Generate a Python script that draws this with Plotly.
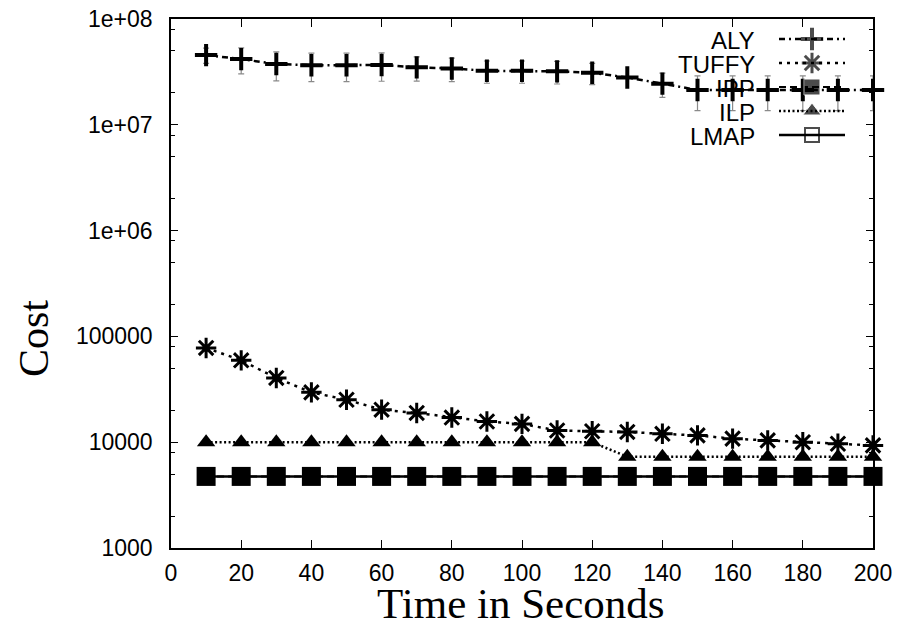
import plotly.graph_objects as go

# ---------------- data ----------------
time_s = [10, 20, 30, 40, 50, 60, 70, 80, 90, 100,
          110, 120, 130, 140, 150, 160, 170, 180, 190, 200]

aly = [4.56e7, 4.18e7, 3.75e7, 3.66e7, 3.66e7, 3.68e7, 3.49e7, 3.41e7, 3.24e7, 3.24e7,
       3.20e7, 3.10e7, 2.80e7, 2.45e7, 2.13e7, 2.13e7, 2.13e7, 2.13e7, 2.13e7, 2.13e7]
aly_err = [0.75e7, 1.15e7, 1.15e7, 1.10e7, 1.10e7, 1.10e7, 0.90e7, 0.85e7, 0.77e7, 0.77e7,
           0.77e7, 0.70e7, 0.0, 0.63e7, 0.77e7, 0.77e7, 0.77e7, 0.77e7, 0.77e7, 0.77e7]
tuffy = [77800, 59400, 40500, 29600, 25200, 20300, 18900, 17100, 15700, 14900,
         12900, 12700, 12500, 12000, 11600, 10800, 10400, 10000, 9660, 9330]
ipp = [4750] * 20
ilp = [10000] * 12 + [7280] * 8
lmap = [4750] * 20

series_names = ["ALY", "TUFFY", "IPP", "ILP", "LMAP"]

y_tickvals = [1e3, 1e4, 1e5, 1e6, 1e7, 1e8]
y_ticktext = ["1000", "10000", "100000", "1e+06", "1e+07", "1e+08"]
y_minor = [m * 10 ** e for e in range(3, 8) for m in (2, 5, 8)]
x_tickvals = list(range(0, 201, 20))

# ---------------- styles ----------------
styles = {
    "ALY": dict(line=dict(color="black", width=2.5, dash="6px,4px,2px,4px"),
                marker=dict(symbol="cross-thin-open", size=16, color="black",
                            line=dict(width=4, color="black"))),
    "TUFFY": dict(line=dict(color="black", width=2.5, dash="3px,5px"),
                  marker=dict(symbol="asterisk-open", size=17, color="black",
                              line=dict(width=3, color="black"))),
    "IPP": dict(line=dict(color="black", width=2, dash="7px,4px"),
                marker=dict(symbol="square", size=19, color="black")),
    "ILP": dict(line=dict(color="black", width=2.5, dash="2px,2.5px"),
                marker=dict(symbol="triangle-up", size=16, color="black")),
    "LMAP": dict(line=dict(color="black", width=2.5),
                 marker=dict(symbol="square-open", size=14, color="black",
                             line=dict(width=2, color="black"))),
}
legend_marker_size = {"ALY": 16, "TUFFY": 17, "IPP": 16, "ILP": 16, "LMAP": 14}

values = {"ALY": aly, "TUFFY": tuffy, "IPP": ipp, "ILP": ilp, "LMAP": lmap}

fig = go.Figure()
for name in ["LMAP", "ALY", "TUFFY", "ILP", "IPP"]:
    kw = dict(styles[name])
    tr = go.Scatter(x=time_s, y=values[name], mode="lines+markers", name=name,
                    showlegend=False, cliponaxis=False, **kw)
    if name == "ALY":
        tr.error_y = dict(type="data", array=aly_err, color="#8a8a8a",
                          thickness=1.2, width=3)
    fig.add_trace(tr)

# ---------------- custom legend (text left of sample, gnuplot style) ----------------
L_TEXT_X = 757
L_X0, L_XM, L_X1 = 779, 812, 845
legend_rows = [39, 63, 87, 111, 135]
for name, ry in zip(series_names, legend_rows):
    st = styles[name]
    mk = dict(st["marker"])
    mk["size"] = [0, legend_marker_size[name], 0]
    fig.add_trace(go.Scatter(x=[L_X0, L_XM, L_X1], y=[ry, ry, ry], mode="lines+markers",
                             line=st["line"], marker=mk, xaxis="x2", yaxis="y2",
                             showlegend=False, hoverinfo="skip"))
    fig.add_annotation(x=L_TEXT_X, y=ry + 1, xref="x2", yref="y2", text=name,
                       showarrow=False, xanchor="right", yanchor="middle",
                       font=dict(family="Liberation Sans", size=24, color="black"))

PL, PR, PT, PB = 171, 873, 19, 548
W, H = 898, 628

fig.add_annotation(x=(34 - PL) / (PR - PL), y=1 - (339 - PT) / (PB - PT), xref="paper",
                   yref="paper", text="Cost", textangle=-90, showarrow=False,
                   xanchor="center", yanchor="middle",
                   font=dict(family="Liberation Serif", size=42, color="black"))
fig.add_annotation(x=(521 - PL) / (PR - PL), y=1 - (603 - PT) / (PB - PT), xref="paper",
                   yref="paper", text="Time in Seconds", showarrow=False,
                   xanchor="center", yanchor="middle",
                   font=dict(family="Liberation Serif", size=43, color="black"))

axis_common = dict(showline=True, linecolor="black", linewidth=1.5, mirror="ticks",
                   ticks="inside", tickcolor="black", tickwidth=1.2, showgrid=False,
                   zeroline=False, automargin=False,
                   tickfont=dict(family="Liberation Sans", size=23, color="black"))

fig.update_layout(
    width=W, height=H,
    margin=dict(l=PL, r=W - PR, t=PT, b=H - PB, autoexpand=False),
    paper_bgcolor="white", plot_bgcolor="white",
    showlegend=False,
    xaxis=dict(range=[0, 200], tickmode="array", tickvals=x_tickvals, ticklen=8,
               ticklabelstandoff=4, **axis_common),
    yaxis=dict(type="log", range=[3, 8], tickmode="array", tickvals=y_tickvals,
               ticktext=y_ticktext, ticklen=7, ticklabelstandoff=12,
               minor=dict(tickmode="array", tickvals=y_minor, ticks="inside",
                          ticklen=4, tickcolor="black", tickwidth=1.2),
               **axis_common),
    xaxis2=dict(overlaying="x", range=[PL, PR], visible=False, anchor="y2",
                fixedrange=True, automargin=False),
    yaxis2=dict(overlaying="y", range=[PB, PT], visible=False, anchor="x2",
                fixedrange=True, automargin=False),
)

fig.write_html("out.html", config={"displayModeBar": False},
               post_script="document.body.style.margin='0';document.body.style.overflow='hidden';")
